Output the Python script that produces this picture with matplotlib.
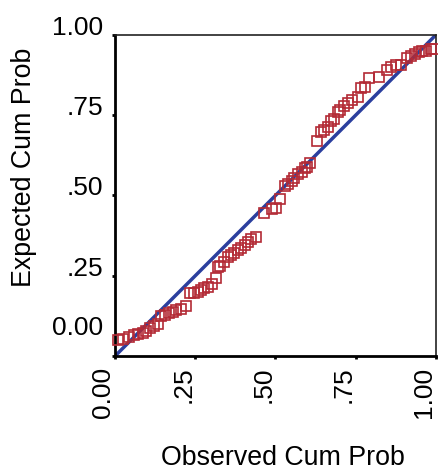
import numpy as np
from matplotlib import pyplot as plt
from matplotlib import transforms

plt.rcParams['font.family'] = ['Liberation Sans', 'DejaVu Sans']

# observed vs expected cumulative probability
obs = [0.008, 0.024, 0.045, 0.060, 0.073, 0.086, 0.097, 0.110, 0.123, 0.133,
       0.143, 0.156, 0.169, 0.180, 0.190, 0.206, 0.221,
       0.235, 0.247, 0.258, 0.268, 0.278, 0.289, 0.302, 0.315, 0.322, 0.328,
       0.341, 0.351, 0.361, 0.372, 0.382, 0.393, 0.405, 0.413, 0.424, 0.439,
       0.463, 0.488, 0.502, 0.515,
       0.530, 0.540, 0.550, 0.559, 0.571, 0.582, 0.592, 0.598, 0.609,
       0.629, 0.642, 0.650, 0.663, 0.673, 0.683, 0.694, 0.702, 0.714, 0.725,
       0.737, 0.756, 0.766, 0.779, 0.792, 0.823,
       0.847, 0.860, 0.875, 0.891, 0.910, 0.922, 0.935, 0.948, 0.958, 0.969,
       0.984, 0.995]
expd = [0.050, 0.052, 0.058, 0.065, 0.069, 0.073, 0.079, 0.086, 0.093, 0.100,
        0.125, 0.128, 0.135, 0.138, 0.143, 0.148, 0.156,
        0.197, 0.197, 0.200, 0.206, 0.211, 0.216, 0.223, 0.242, 0.276, 0.280,
        0.294, 0.307, 0.315, 0.322, 0.330, 0.335, 0.346, 0.356, 0.363, 0.370,
        0.444, 0.457, 0.460, 0.489,
        0.531, 0.536, 0.546, 0.553, 0.567, 0.574, 0.585, 0.590, 0.600,
        0.668, 0.699, 0.704, 0.712, 0.733, 0.737, 0.761, 0.766, 0.779, 0.789,
        0.798, 0.806, 0.834, 0.839, 0.865, 0.868,
        0.891, 0.901, 0.907, 0.907, 0.927, 0.935, 0.941, 0.948, 0.950, 0.951,
        0.955, 0.955]
ticks = [0, 0.25, 0.5, 0.75, 1.0]
tick_labels = ['0.00', '.25', '.50', '.75', '1.00']

fig = plt.figure(figsize=(4.39, 4.71), dpi=100)
ax = fig.add_axes([0.262, 0.244, 0.731, 0.682])

ax.plot([0, 1], [0, 1], color='#2b3f9e', lw=2.5, zorder=2)
ax.plot(obs, expd, ls='none', marker='s', ms=6.8, mfc='none',
        mec='#b32a35', mew=1.2, clip_on=False, zorder=3)

ax.set_xlim(0, 1)
ax.set_ylim(0, 1)
ax.set_xticks(ticks)
ax.set_yticks(ticks)
ax.set_xticklabels(tick_labels, rotation=90, ha='right', va='top', fontsize=19)
ax.set_yticklabels(tick_labels, va='baseline', fontsize=19)
ax.tick_params(axis='both', direction='out', length=2.5, width=2)
ax.tick_params(axis='y', pad=6)
ax.tick_params(axis='x', pad=5)

# SPSS lifts the bottom label off the corner
lab0 = ax.get_yticklabels()[0]
lab0.set_transform(lab0.get_transform() +
                   transforms.ScaledTranslation(0, 21 / 100, fig.dpi_scale_trans))

for s in ['left', 'bottom']:
    ax.spines[s].set_linewidth(2)
for s in ['top', 'right']:
    ax.spines[s].set_linewidth(1.2)
    ax.spines[s].set_color('#222222')

fig.text(0.645, 0.013, 'Observed Cum Prob', ha='center', va='baseline', fontsize=19.3)
fig.text(0.055, 0.645, 'Expected Cum Prob', ha='center', va='center',
         rotation=90, fontsize=19.3)

plt.savefig('out.png', dpi=100)
